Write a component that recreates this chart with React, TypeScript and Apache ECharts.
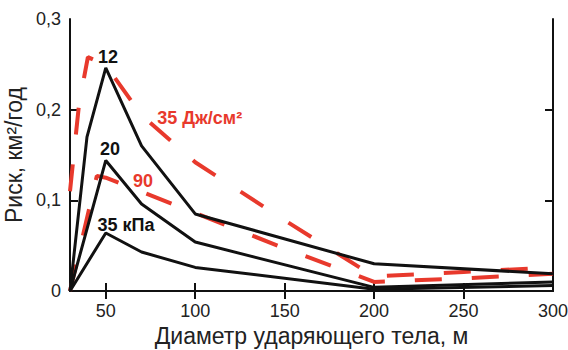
import React, { useEffect, useRef } from "react";
import * as echarts from "echarts";

// X tick values and labels
const xTicks = [50, 100, 150, 200, 250, 300];
const yTicks = [0.1, 0.2];

// Black solid curves (overpressure)
const x12 = [30, 39.5, 50, 70, 100, 200, 300];
const y12 = [0, 0.17, 0.246, 0.16, 0.085, 0.03, 0.019];
const x20 = [30, 50, 70, 100, 200, 300];
const y20 = [0, 0.144, 0.096, 0.054, 0.004, 0.01];
const x35k = [30, 50, 70, 100, 200, 300];
const y35k = [0, 0.064, 0.043, 0.026, 0.002, 0.006];

// Red dashed curves (thermal flux)
const x35j = [30, 35, 40, 50, 70, 100, 150, 200, 250, 300];
const y35j = [0.11, 0.205, 0.258, 0.249, 0.194, 0.142, 0.078, 0.016, 0.021, 0.026];
const x90 = [30, 45, 50, 100, 150, 200, 250, 300];
const y90 = [0, 0.127, 0.125, 0.086, 0.047, 0.01, 0.014, 0.019];

// Curve labels (anchor in data units)
const labels = [
  { text: "12", x: 51.2, y: 0.258, color: "#111" },
  { text: "20", x: 52.3, y: 0.157, color: "#111" },
  { text: "35 кПа", x: 61.3, y: 0.073, color: "#111" },
  { text: "90", x: 70.8, y: 0.121, color: "#e8392c" },
  { text: "35 Дж/см²", x: 102.5, y: 0.191, color: "#e8392c" },
];

const RED = "#e8392c";
const BLACK = "#111";
const FONT = "Liberation Sans, Arial, sans-serif";

const pairs = (xs: number[], ys: number[]) => xs.map((x, i) => [x, ys[i]]);

export default function App() {
  const ref = useRef<HTMLDivElement>(null);
  useEffect(() => {
    if (!ref.current) return;
    const chart = echarts.init(ref.current, undefined, { renderer: "svg" });
    const axisLine = { show: true, lineStyle: { color: "#111", width: 2 } };
    const tick = { show: true, inside: true, length: 8, lineStyle: { color: "#111", width: 2 } };
    const solid = (name: string, xs: number[], ys: number[]) => ({
      type: "line",
      name,
      data: pairs(xs, ys),
      showSymbol: false,
      symbol: "none",
      lineStyle: { color: BLACK, width: 3 },
      z: 3,
    });
    const dashed = (name: string, xs: number[], ys: number[]) => ({
      type: "line",
      name,
      data: pairs(xs, ys),
      showSymbol: false,
      symbol: "none",
      lineStyle: { color: RED, width: 4, type: [27, 30] },
      z: 2,
    });
    chart.setOption({
      animation: false,
      textStyle: { fontFamily: FONT },
      grid: { left: 70, right: 15, top: 19, bottom: 59, containLabel: false, outerBoundsMode: "none" },
      xAxis: [
        {
          type: "value",
          min: 30,
          max: 300,
          position: "bottom",
          axisLine,
          axisTick: { ...tick, customValues: xTicks.slice(0, 5) },
          axisLabel: {
            customValues: xTicks,
            color: "#222",
            fontSize: 18,
            margin: 11,
            fontFamily: FONT,
          },
          splitLine: { show: false },
          name: "Диаметр ударяющего тела, м",
          nameLocation: "middle",
          nameGap: 32,
          nameTextStyle: { fontSize: 23, color: "#222", fontFamily: FONT },
        },
        {
          type: "value",
          min: 30,
          max: 300,
          position: "top",
          axisLine,
          axisTick: { ...tick, customValues: xTicks.slice(0, 5) },
          axisLabel: { show: false },
          splitLine: { show: false },
        },
      ],
      yAxis: [
        {
          type: "value",
          min: 0,
          max: 0.3,
          interval: 0.1,
          position: "left",
          axisLine,
          axisTick: { ...tick, customValues: yTicks },
          axisLabel: {
            color: "#222",
            fontSize: 18,
            margin: 9,
            fontFamily: FONT,
            formatter: (v: number) => (v === 0 ? "0" : v.toFixed(1).replace(".", ",")),
          },
          splitLine: { show: false },
          name: "Риск, км²/год",
          nameLocation: "middle",
          nameGap: 45,
          nameTextStyle: { fontSize: 23, color: "#222", fontFamily: FONT },
        },
        {
          type: "value",
          min: 0,
          max: 0.3,
          interval: 0.1,
          position: "right",
          axisLine,
          axisTick: { ...tick, customValues: yTicks },
          axisLabel: { show: false },
          splitLine: { show: false },
        },
      ],
      series: [
        dashed("35 Дж/см²", x35j, y35j),
        dashed("90", x90, y90),
        solid("12", x12, y12),
        solid("20", x20, y20),
        {
          ...solid("35 кПа", x35k, y35k),
          markPoint: {
            symbol: "circle",
            symbolSize: 0,
            silent: true,
            data: labels.map((l) => ({
              coord: [l.x, l.y],
              name: l.text,
              label: {
                show: true,
                position: "inside",
                formatter: l.text,
                color: l.color,
                fontSize: 18,
                fontWeight: "bold",
                fontFamily: FONT,
              },
            })),
          },
        },
      ],
    });
    return () => chart.dispose();
  }, []);
  return (
    <div style={{ position: "fixed", left: 0, top: 0, width: 568, height: 350, background: "#fff" }}>
      <div ref={ref} style={{ width: 568, height: 350 }} />
    </div>
  );
}
